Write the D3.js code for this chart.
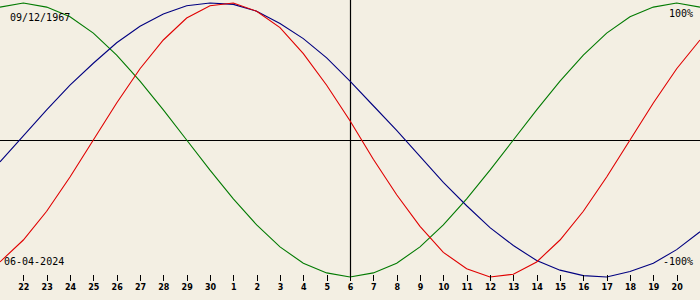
<!DOCTYPE html>
<html>
<head>
<meta charset="utf-8">
<script src="https://cdn.jsdelivr.net/npm/d3@7"></script>
<style>
  html, body { margin: 0; padding: 0; background: #f3efe3; }
  svg { display: block; }
  .lbl { font-family: "DejaVu Sans Mono", monospace; font-size: 10px; fill: #000; }
  .tick-lbl { font-family: "DejaVu Sans", sans-serif; font-size: 8px; font-weight: bold; fill: #000; }
</style>
</head>
<body>
<div id="chart"></div>
<script>
// day of month for each sample (index 0..30), ticks shown for 1..29
const days = [21, 22, 23, 24, 25, 26, 27, 28, 29, 30, 1, 2, 3, 4, 5, 6, 7, 8, 9, 10,
              11, 12, 13, 14, 15, 16, 17, 18, 19, 20, 21];

// biorhythm values in percent, one per day
const physical = [-89, -73, -52, -27, 0, 27, 52, 73, 89, 98, 100, 94, 82, 63, 40, 14,
                  -14, -40, -63, -82, -94, -100, -98, -89, -73, -52, -27, 0, 27, 52, 73];
const emotional = [97, 100, 97, 90, 78, 62, 43, 22, 0, -22, -43, -62, -78, -90, -97, -100,
                   -97, -90, -78, -62, -43, -22, 0, 22, 43, 62, 78, 90, 97, 100, 97];
const intellectual = [-16, 3, 22, 40, 56, 71, 83, 92, 98, 100, 99, 94, 85, 74, 60, 43,
                      25, 7, -12, -31, -48, -64, -77, -88, -95, -99, -100, -96, -90, -80, -67];

const birthLabel = "09/12/1967";
const dateLabel = "06-04-2024";
const centerIndex = 15;

const W = 700, H = 300;

const svg = d3.select("#chart").append("svg")
    .attr("width", W)
    .attr("height", H);

svg.append("rect").attr("width", W).attr("height", H).attr("fill", "#f3efe3");

const x = d3.scaleLinear().domain([0, days.length - 1]).range([0, W]);
const y = d3.scaleLinear().domain([-100, 100]).range([277, 3]);

const line = d3.line()
    .x((d, i) => x(i))
    .y(d => y(d));

// reference lines
svg.append("line")
    .attr("x1", 0).attr("x2", W)
    .attr("y1", Math.floor(y(0)) + 0.5).attr("y2", Math.floor(y(0)) + 0.5)
    .attr("stroke", "#000").attr("stroke-width", 1.2);

svg.append("line")
    .attr("x1", Math.round(x(centerIndex)) + 0.5).attr("x2", Math.round(x(centerIndex)) + 0.5)
    .attr("y1", 0).attr("y2", y(-100))
    .attr("stroke", "#000").attr("stroke-width", 1.2);

// curves
[[emotional, "#007a00"], [intellectual, "#000080"], [physical, "#e00000"]].forEach(([vals, col]) => {
  svg.append("path")
      .datum(vals)
      .attr("fill", "none")
      .attr("stroke", col)
      .attr("stroke-width", 1.1)
      .attr("d", line);
});

// day ticks
const xAxis = d3.axisBottom(x)
    .tickValues(d3.range(1, days.length - 1))
    .tickSize(6)
    .tickFormat(i => days[i]);

const ax = svg.append("g")
    .attr("transform", "translate(0,275)")
    .call(xAxis);
ax.select(".domain").remove();
ax.selectAll(".tick line").attr("stroke", "#000").attr("shape-rendering", "crispEdges");
ax.selectAll(".tick text")
    .attr("class", "tick-lbl")
    .attr("y", 15)
    .attr("dy", null);

// corner labels
svg.append("text").attr("class", "lbl").attr("x", 10).attr("y", 21).text(birthLabel);
svg.append("text").attr("class", "lbl").attr("x", 4).attr("y", 265).text(dateLabel);
svg.append("text").attr("class", "lbl").attr("x", 693).attr("y", 17)
    .attr("text-anchor", "end").text("100%");
svg.append("text").attr("class", "lbl").attr("x", 693).attr("y", 265)
    .attr("text-anchor", "end").text("-100%");
</script>
</body>
</html>
